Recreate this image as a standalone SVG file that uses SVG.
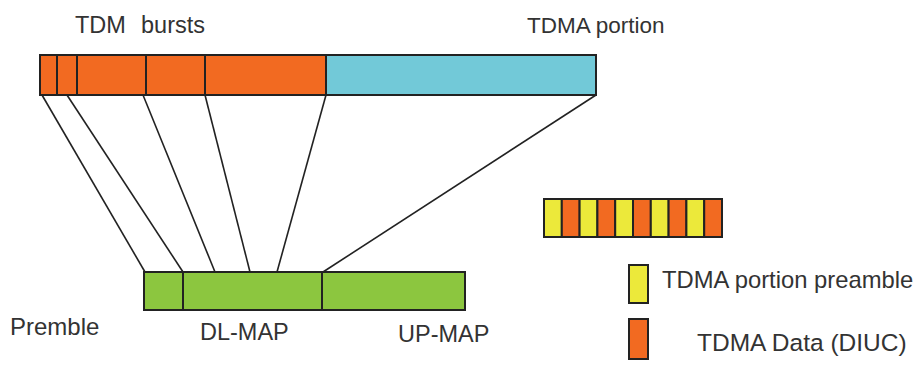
<svg xmlns="http://www.w3.org/2000/svg" width="921" height="365" viewBox="0 0 921 365">
<style>
text{font-family:"Liberation Sans",Arial,sans-serif;fill:#333}
.o{fill:#f26a21}
.b{fill:#72c9d8}
.g{fill:#8cc63f}
.y{fill:#ece93a}
.box{stroke:#222;stroke-width:2}
.div{stroke:#222;stroke-width:2}
.conn line{stroke:#222;stroke-width:1.6}
</style>
<rect width="921" height="365" fill="#fff"/>
<g id="frame-top">
<rect class="o box" x="40" y="55" width="286" height="40"/>
<rect class="b box" x="326" y="55" width="270" height="40"/>
<line class="div" x1="57" y1="55" x2="57" y2="95"/>
<line class="div" x1="77" y1="55" x2="77" y2="95"/>
<line class="div" x1="146" y1="55" x2="146" y2="95"/>
<line class="div" x1="205" y1="55" x2="205" y2="95" stroke-width="3"/>
<text x="75" y="33" font-size="23.5">TDM</text>
<text x="141" y="33" font-size="23.5">bursts</text>
<text x="527" y="33" font-size="22.5">TDMA portion</text>
</g>
<g id="frame-bottom">
<rect class="g box" x="144" y="272" width="321" height="38"/>
<line class="div" x1="183" y1="272" x2="183" y2="310"/>
<line class="div" x1="322" y1="272" x2="322" y2="310"/>
<text x="10" y="335" font-size="24">Premble</text>
<text x="200" y="340" font-size="23.5">DL-MAP</text>
<text x="398" y="342" font-size="23.5">UP-MAP</text>
</g>
<g id="tdma-strip">
<rect class="y box" x="544" y="199" width="17.8" height="38"/>
<rect class="o box" x="561.8" y="199" width="17.8" height="38"/>
<rect class="y box" x="579.6" y="199" width="17.8" height="38"/>
<rect class="o box" x="597.4" y="199" width="17.8" height="38"/>
<rect class="y box" x="615.2" y="199" width="17.8" height="38"/>
<rect class="o box" x="633" y="199" width="17.8" height="38"/>
<rect class="y box" x="650.8" y="199" width="17.8" height="38"/>
<rect class="o box" x="668.6" y="199" width="17.8" height="38"/>
<rect class="y box" x="686.4" y="199" width="17.8" height="38"/>
<rect class="o box" x="704.2" y="199" width="17.8" height="38"/>
</g>
<g id="legend-preamble">
<rect class="y box" x="629" y="265" width="19" height="38"/>
<text x="662" y="288" font-size="23.8">TDMA portion preamble</text>
</g>
<g id="legend-data">
<rect class="o box" x="629" y="319" width="19" height="40"/>
<text x="697" y="351" font-size="24.5">TDMA Data (DIUC)</text>
</g>
<g id="connectors" class="conn">
<line x1="42" y1="95" x2="145" y2="272"/>
<line x1="67" y1="95" x2="183" y2="272"/>
<line x1="143" y1="95" x2="215" y2="272"/>
<line x1="205" y1="95" x2="250" y2="272"/>
<line x1="326" y1="95" x2="277" y2="272"/>
<line x1="596" y1="95" x2="323" y2="272"/>
</g>
</svg>
